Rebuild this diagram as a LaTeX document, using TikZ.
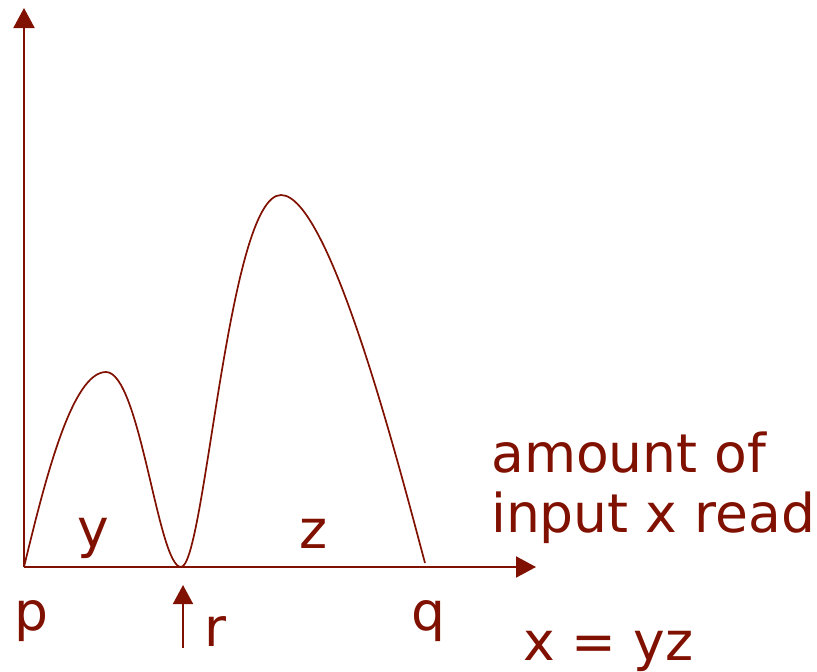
\documentclass[tikz,border=0pt]{standalone}
\usepackage{fontspec}
\setmainfont{DejaVu Sans}
\usetikzlibrary{arrows.meta}
\definecolor{dred}{RGB}{128,16,0}
\begin{document}
\begin{tikzpicture}[x=1pt,y=-1pt,
  axis/.style={draw=dred,line width=2pt,-{Triangle[width=21pt,length=20pt]}},
  curve/.style={draw=dred,line width=1.7pt},
  lbl/.style={text=dred,inner sep=0pt,anchor=base west,font=\fontsize{53.5}{60}\selectfont},
  pointer/.style={draw=dred,line width=1.6pt,-{Triangle[width=20pt,length=19pt]}}]
\useasboundingbox (0,0) rectangle (817,672);
\coordinate (O) at (24,567);
\coordinate (Ytop) at (24,8);
\coordinate (Xend) at (536,567);
\coordinate (Rbot) at (183,648);
\coordinate (Rtop) at (183,585);
\draw[axis] (O) -- (Ytop);
\draw[axis] (O) -- (Xend);
\draw[curve] (O) .. controls (45,480) and (72,372) .. (106,372)
  .. controls (140,372) and (158,567) .. (181,567)
  .. controls (205,567) and (228,195) .. (281,195)
  .. controls (330,195) and (400,470) .. (425,563);
\draw[pointer] (Rbot) -- (Rtop);
\node[lbl] (ylab) at (77,547) {y};
\node[lbl] (zlab) at (299,548) {z};
\node[lbl] (plab) at (14,630) {p};
\node[lbl] (rlab) at (204,646) {r};
\node[lbl] (qlab) at (411,630) {q};
\node[lbl] (xlab1) at (491,472) {amount of};
\node[lbl] (xlab2) at (491,532) {input x read};
\node[lbl] (eq) at (523,660) {x = yz};
\end{tikzpicture}
\end{document}
